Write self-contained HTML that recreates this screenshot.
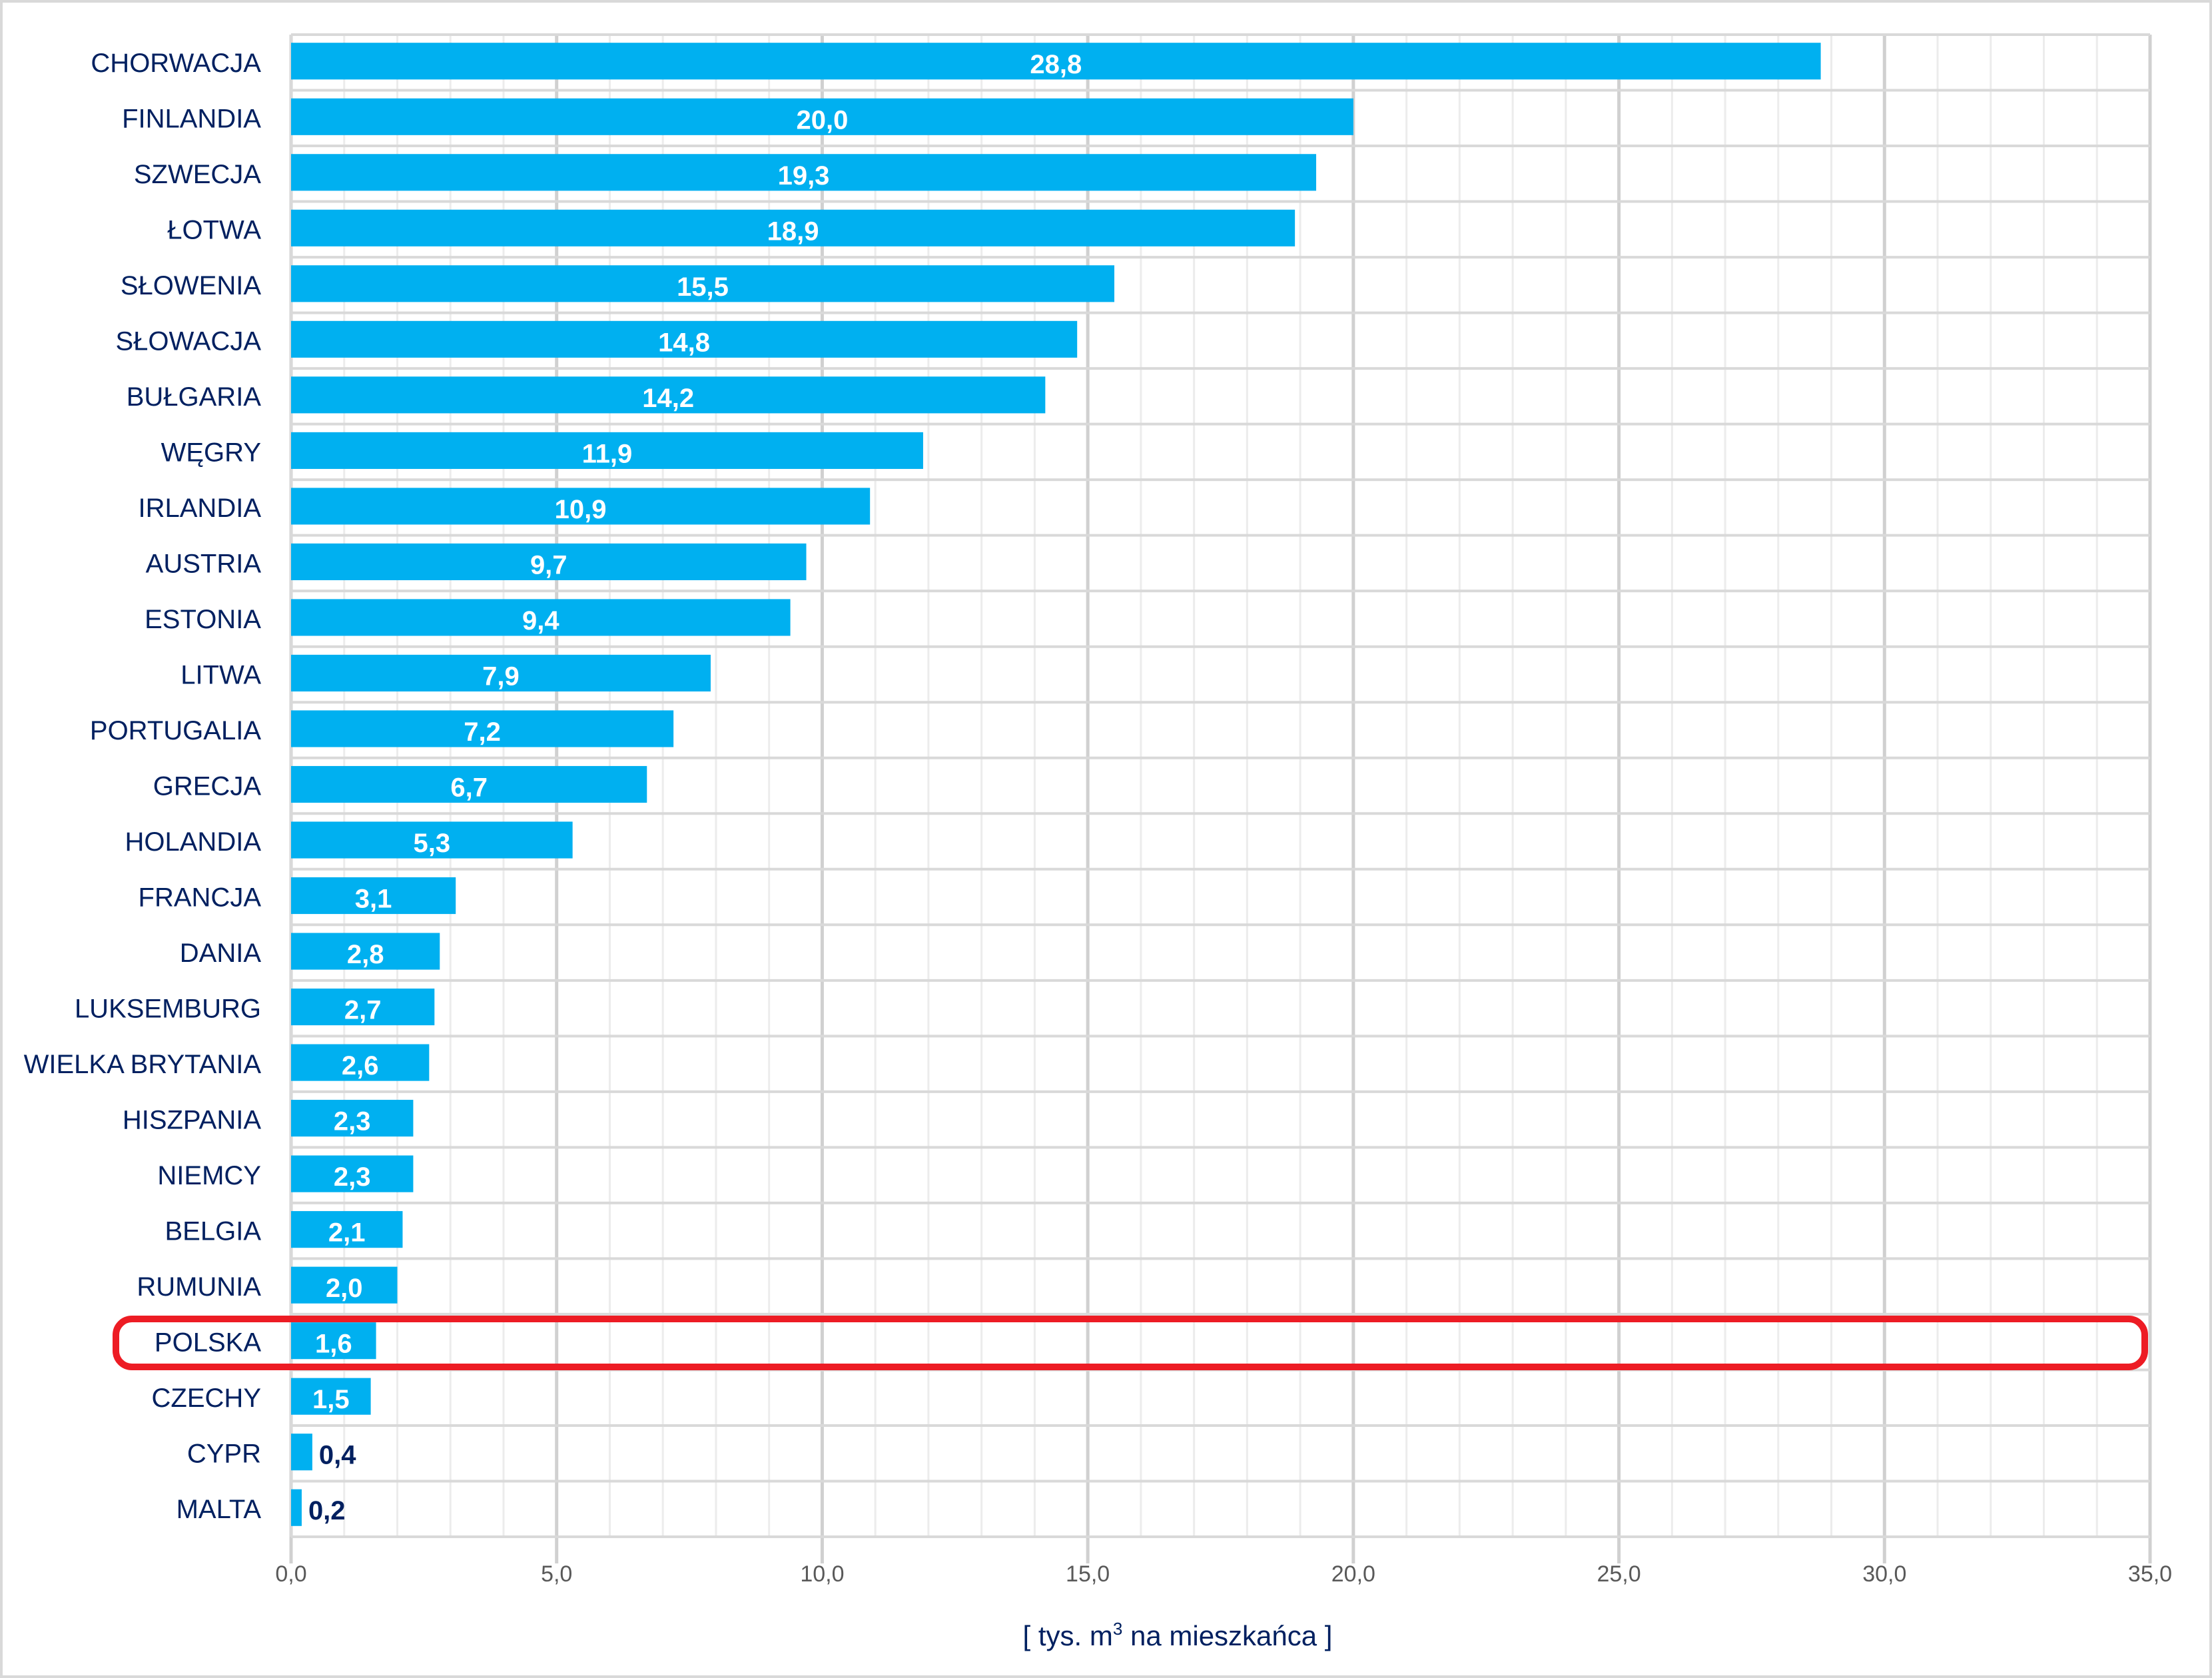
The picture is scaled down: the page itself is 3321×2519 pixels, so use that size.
<!DOCTYPE html>
<html><head><meta charset="utf-8"><style>
html,body{margin:0;padding:0;background:#fff;}
svg{display:block;}
text{font-family:"Liberation Sans",sans-serif;}
</style></head><body>
<svg id="chart" width="3321" height="2519" viewBox="0 0 3321 2519" xmlns="http://www.w3.org/2000/svg">
<rect x="2" y="2" width="3317" height="2515" fill="#fff" stroke="#d9d9d9" stroke-width="4"/>
<g id="grid"></g>
<g id="bars"></g>
<g id="labels"></g>
<g id="ticks"></g>
<text x="1768" y="2470" text-anchor="middle" font-size="42" fill="#002060">[ tys. m<tspan dy="-16" font-size="26">3</tspan><tspan dy="16"> na mieszkańca ]</tspan></text>
<rect x="174" y="1980" width="3046" height="72" rx="24" ry="24" fill="none" stroke="#ed1c24" stroke-width="10"/>
</svg>
<script>
const categories = ["CHORWACJA","FINLANDIA","SZWECJA","ŁOTWA","SŁOWENIA","SŁOWACJA","BUŁGARIA","WĘGRY","IRLANDIA","AUSTRIA","ESTONIA","LITWA","PORTUGALIA","GRECJA","HOLANDIA","FRANCJA","DANIA","LUKSEMBURG","WIELKA BRYTANIA","HISZPANIA","NIEMCY","BELGIA","RUMUNIA","POLSKA","CZECHY","CYPR","MALTA"];
const values = [28.8,20.0,19.3,18.9,15.5,14.8,14.2,11.9,10.9,9.7,9.4,7.9,7.2,6.7,5.3,3.1,2.8,2.7,2.6,2.3,2.3,2.1,2.0,1.6,1.5,0.4,0.2];
const tickValues = [0,5,10,15,20,25,30,35];
const tickLabels = ["0,0","5,0","10,0","15,0","20,0","25,0","30,0","35,0"];
const xMax = 35;

const NS = "http://www.w3.org/2000/svg";
const L = 437, R = 3228, T = 52, B = 2307;
const n = categories.length;
const rowH = (B - T) / n;
const barH = rowH * 0.66;
const x = v => L + (v / xMax) * (R - L);
const yRow = i => T + i * rowH;
function mk(tag, attrs, parent) {
  const e = document.createElementNS(NS, tag);
  for (const k in attrs) e.setAttribute(k, attrs[k]);
  parent.appendChild(e);
  return e;
}
const grid = document.getElementById('grid');
const bars = document.getElementById('bars');
const labels = document.getElementById('labels');
const ticks = document.getElementById('ticks');
// minor vertical gridlines
for (let v = 0; v <= xMax; v++) {
  const major = v % 5 === 0;
  const ln = mk('line', {x1: x(v), x2: x(v), y1: T, y2: major ? B + 40 : B, stroke: major ? '#d0d0d0' : '#ececec', 'stroke-width': major ? 5 : 3}, grid);
  
  
}
// horizontal row lines
for (let i = 0; i <= n; i++) {
  const ln = mk('line', {x1: L, x2: R, y1: yRow(i), y2: yRow(i), stroke: '#d9d9d9', 'stroke-width': 4}, grid);
  
  
}
const ax = mk('line', {x1: L, x2: L, y1: T, y2: B, stroke: '#d9d9d9', 'stroke-width': 4}, grid);



categories.forEach((c, i) => {
  const cy = yRow(i) + rowH / 2;
  const w = x(values[i]) - L;
  const r = mk('rect', {x: L, y: cy - barH / 2 - 2, width: w, height: barH, fill: '#00b0f0'}, bars);
  
  
  const t = mk('text', {x: 392, y: cy + 14, 'text-anchor': 'end', 'font-size': 40, fill: '#002060'}, labels);
  t.textContent = c;
  
  
  const txt = values[i].toFixed(1).replace('.', ',');
  const inside = values[i] >= 1;
  const vt = mk('text', {x: inside ? L + w / 2 : x(values[i]) + 10, y: cy + 16, 'text-anchor': inside ? 'middle' : 'start', 'font-size': 40, 'font-weight': 'bold', fill: inside ? '#ffffff' : '#002060'}, labels);
  vt.textContent = txt;
  
  
});
tickValues.forEach((v, i) => {
  const t = mk('text', {x: x(v), y: 2374, 'text-anchor': 'middle', 'font-size': 34, fill: '#595959'}, ticks);
  t.textContent = tickLabels[i];
  
  
});
</script>
</body></html>
